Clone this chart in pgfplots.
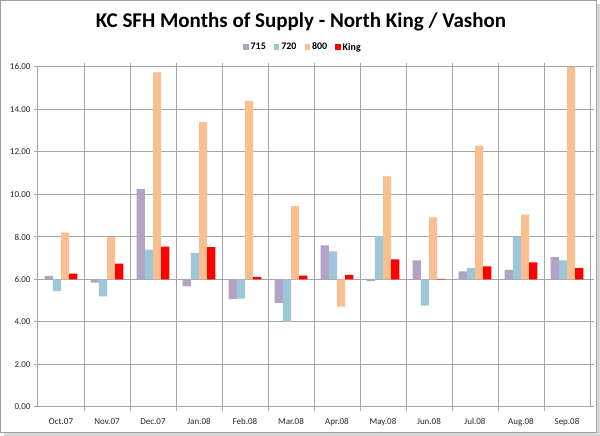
\documentclass[border=0pt]{standalone}
\usepackage{pgfplots}
\pgfplotsset{compat=1.18}
\usepackage{pgfplotstable}
\usepackage{fontspec}
\setmainfont{Carlito}
\definecolor{cA}{HTML}{B3A2C7}
\definecolor{cB}{HTML}{9DC6D8}
\definecolor{cC}{HTML}{FABF8F}
\definecolor{cD}{HTML}{FF0000}
\definecolor{gridc}{HTML}{A6A6A6}
\pgfplotstableread{
x a b c k
0 6.17 5.45 8.20 6.28
1 5.85 5.20 8.00 6.75
2 10.25 7.40 15.75 7.55
3 5.68 7.25 13.40 7.52
4 5.08 5.10 14.40 6.12
5 4.90 4.00 9.45 6.18
6 7.60 7.32 4.72 6.22
7 5.92 8.05 10.85 6.95
8 6.90 4.77 8.92 6.03
9 6.38 6.55 12.30 6.62
10 6.45 8.00 9.05 6.80
11 7.05 6.90 16.00 6.55
}\datatable
\begin{document}
\begin{tikzpicture}[x=1pt,y=1pt]
\fill[gray!30] (4,0) rectangle (600,432);
\filldraw[fill=white,draw=gray!75,line width=1pt] (0.5,3.5) rectangle (596,435.5);
\node[font=\bfseries\fontsize{21}{24}\selectfont] at (301,414) {KC SFH Months of Supply - North King / Vashon};
\begin{axis}[
  at={(38pt,29pt)}, anchor=south west, scale only axis,
  width=552pt, height=340pt,
  ymin=-6, ymax=10, xmin=-0.5, xmax=11.5,
  ybar=0pt, bar width=8.2pt,
  y filter/.expression={y-6},
  ytick={-6,-4,...,10},
  yticklabel={\pgfmathparse{\tick+6}\pgfmathprintnumber[fixed,fixed zerofill,precision=2]{\pgfmathresult}},
  /pgf/number format/assume math mode=true,
  xtick={0,...,11},
  xticklabels={Oct.07,Nov.07,Dec.07,Jan.08,Feb.08,Mar.08,Apr.08,May.08,Jun.08,Jul.08,Aug.08,Sep.08},
  minor xtick={0.5,1.5,...,10.5},
  ymajorgrids, xminorgrids,
  grid style={gridc, line width=1pt},
  minor grid style={gridc, line width=1pt},
  axis line style={gridc, line width=1pt},
  tick align=outside,
  x tick style={draw=none},
  minor x tick style={draw=gridc, line width=1pt},
  y tick style={draw=gridc, line width=1pt},
  major tick length=4pt, minor tick length=4pt,
  tick label style={font=\fontsize{9}{10}\selectfont, text=black!85},
  xticklabel style={yshift=-4pt},
  legend style={at={(0.48,1.058)}, anchor=center, legend columns=-1, draw=none, fill=none,
    font=\bfseries\fontsize{10}{11}\selectfont,
    /tikz/every even column/.append style={column sep=6pt}},
  legend image code/.code={\fill[#1] (0pt,-2.5pt) rectangle (5.5pt,3pt);},
  every axis plot/.append style={draw=none},
]
\addplot[fill=cA] table[x=x,y=a]{\datatable};
\addplot[fill=cB] table[x=x,y=b]{\datatable};
\addplot[fill=cC] table[x=x,y=c]{\datatable};
\addplot[fill=cD] table[x=x,y=k]{\datatable};
\legend{715,720,800,King}
\end{axis}
\end{tikzpicture}
\end{document}
